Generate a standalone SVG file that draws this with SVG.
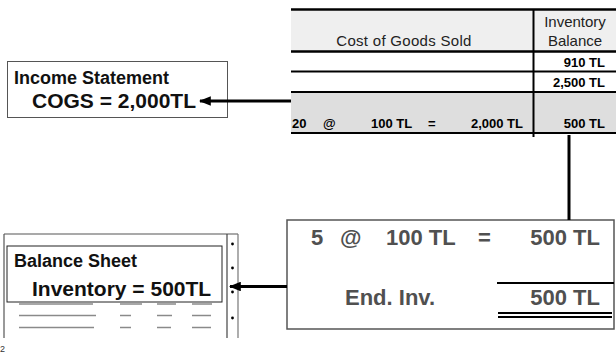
<svg xmlns="http://www.w3.org/2000/svg" width="616" height="356" viewBox="0 0 616 356">
<defs>
<style>
text{font-family:"Liberation Sans",Arial,sans-serif}
.tl{stroke:#000;fill:none}
.tv{font-size:13px;font-weight:bold;fill:#000}
.hd{font-size:15px;fill:#222}
.big{font-size:21px;font-weight:bold;fill:#111}
.sub{font-size:18px;font-weight:bold;fill:#111}
.gy{font-size:22px;font-weight:bold;fill:#505050}
.conn{stroke:#000;stroke-width:3;fill:none}
.rule{stroke:#8a8a8a;stroke-width:1.5}
</style>
<marker id="ah" viewBox="0 0 10 8" refX="9" refY="4" markerWidth="4" markerHeight="3.2" markerUnits="strokeWidth" orient="auto">
<path d="M0,0 L10,4 L0,8 Z" fill="#000"/>
</marker>
</defs>
<rect width="616" height="356" fill="#fff"/>

<g id="table">
<rect x="291" y="11" width="325" height="40" fill="#efefef"/>
<rect x="291" y="93" width="325" height="39" fill="#dedede"/>
<line class="tl" x1="291" y1="9.5" x2="616" y2="9.5" stroke-width="2.5"/>
<line class="tl" x1="291" y1="51.5" x2="616" y2="51.5" stroke-width="2.5"/>
<line class="tl" x1="291" y1="71.5" x2="616" y2="71.5" stroke-width="2"/>
<line class="tl" x1="291" y1="92" x2="616" y2="92" stroke-width="2"/>
<line class="tl" x1="291" y1="133" x2="616" y2="133" stroke-width="2"/>
<line class="tl" x1="533.5" y1="9" x2="533.5" y2="137" stroke-width="2"/>
<text class="hd" x="404" y="46" text-anchor="middle" font-size="16" letter-spacing="0.3">Cost of Goods Sold</text>
<text class="hd" x="575" y="27" text-anchor="middle">Inventory</text>
<text class="hd" x="575" y="46" text-anchor="middle">Balance</text>
<text class="tv" x="605" y="66.5" text-anchor="end">910 TL</text>
<text class="tv" x="605" y="86.5" text-anchor="end">2,500 TL</text>
<text class="tv" x="292" y="128">20</text>
<text class="tv" x="323" y="128">@</text>
<text class="tv" x="371" y="128">100 TL</text>
<text class="tv" x="428" y="128">=</text>
<text class="tv" x="523" y="128" text-anchor="end">2,000 TL</text>
<text class="tv" x="605" y="128" text-anchor="end">500 TL</text>
</g>

<g id="income-statement">
<rect x="7.5" y="61.5" width="220" height="56" fill="#fff" stroke="#555" stroke-width="1"/>
<text class="sub" x="14" y="84">Income Statement</text>
<text class="big" x="32" y="108">COGS = 2,000TL</text>
</g>

<g id="ending-inventory">
<rect x="287" y="220" width="327" height="109" fill="#fff" stroke="#555" stroke-width="1.5"/>
<text class="gy" x="311" y="245">5</text>
<text class="gy" x="340" y="245">@</text>
<text class="gy" x="386" y="245">100 TL</text>
<text class="gy" x="478" y="245">=</text>
<text class="gy" x="600" y="245" text-anchor="end">500 TL</text>
<text class="gy" x="345" y="305">End. Inv.</text>
<text class="gy" x="600" y="305" text-anchor="end">500 TL</text>
<line x1="497" y1="283" x2="614" y2="283" stroke="#000" stroke-width="2"/>
<line x1="498" y1="313" x2="612" y2="313" stroke="#000" stroke-width="2.2"/>
<line x1="498" y1="317" x2="612" y2="317" stroke="#000" stroke-width="2.2"/>
</g>

<g id="balance-sheet">
<line x1="4" y1="234" x2="4" y2="338" stroke="#555" stroke-width="1.2"/>
<line x1="4" y1="234" x2="238" y2="234" stroke="#555" stroke-width="1.2"/>
<line x1="227" y1="234" x2="227" y2="338" stroke="#444" stroke-width="1.2"/>
<line x1="238" y1="234" x2="238" y2="338" stroke="#777" stroke-width="1.2"/>
<circle cx="232.5" cy="244" r="1.4" fill="#000"/>
<circle cx="232.5" cy="268" r="1.4" fill="#000"/>
<circle cx="232.5" cy="292" r="1.4" fill="#000"/>
<circle cx="232.5" cy="318" r="1.4" fill="#000"/>
<line class="rule" x1="19" y1="304" x2="93" y2="304"/>
<line class="rule" x1="120" y1="304" x2="142" y2="304"/>
<line class="rule" x1="157" y1="304" x2="176" y2="304"/>
<line class="rule" x1="192" y1="304" x2="212" y2="304"/>
<line class="rule" x1="19" y1="315.5" x2="96" y2="315.5"/>
<line class="rule" x1="120" y1="315.5" x2="131" y2="315.5"/>
<line class="rule" x1="157" y1="315.5" x2="172" y2="315.5"/>
<line class="rule" x1="192" y1="315.5" x2="211" y2="315.5"/>
<line class="rule" x1="19" y1="327.5" x2="94" y2="327.5"/>
<line class="rule" x1="120" y1="327.5" x2="131" y2="327.5"/>
<line class="rule" x1="157" y1="327.5" x2="171" y2="327.5"/>
<line class="rule" x1="192" y1="327.5" x2="211" y2="327.5"/>
<rect x="7" y="246" width="215" height="56" fill="#fff" stroke="#222" stroke-width="1"/>
<text class="sub" x="14" y="267">Balance Sheet</text>
<text class="big" x="32" y="296">Inventory = 500TL</text>
</g>

<g id="connectors">
<line class="conn" x1="291" y1="101" x2="200" y2="101" marker-end="url(#ah)"/>
<line class="conn" x1="569" y1="135" x2="569" y2="220"/>
<line class="conn" x1="287" y1="286.5" x2="230" y2="286.5" marker-end="url(#ah)"/>
</g>

<text x="0" y="352" font-size="9" fill="#333">2</text>
</svg>
